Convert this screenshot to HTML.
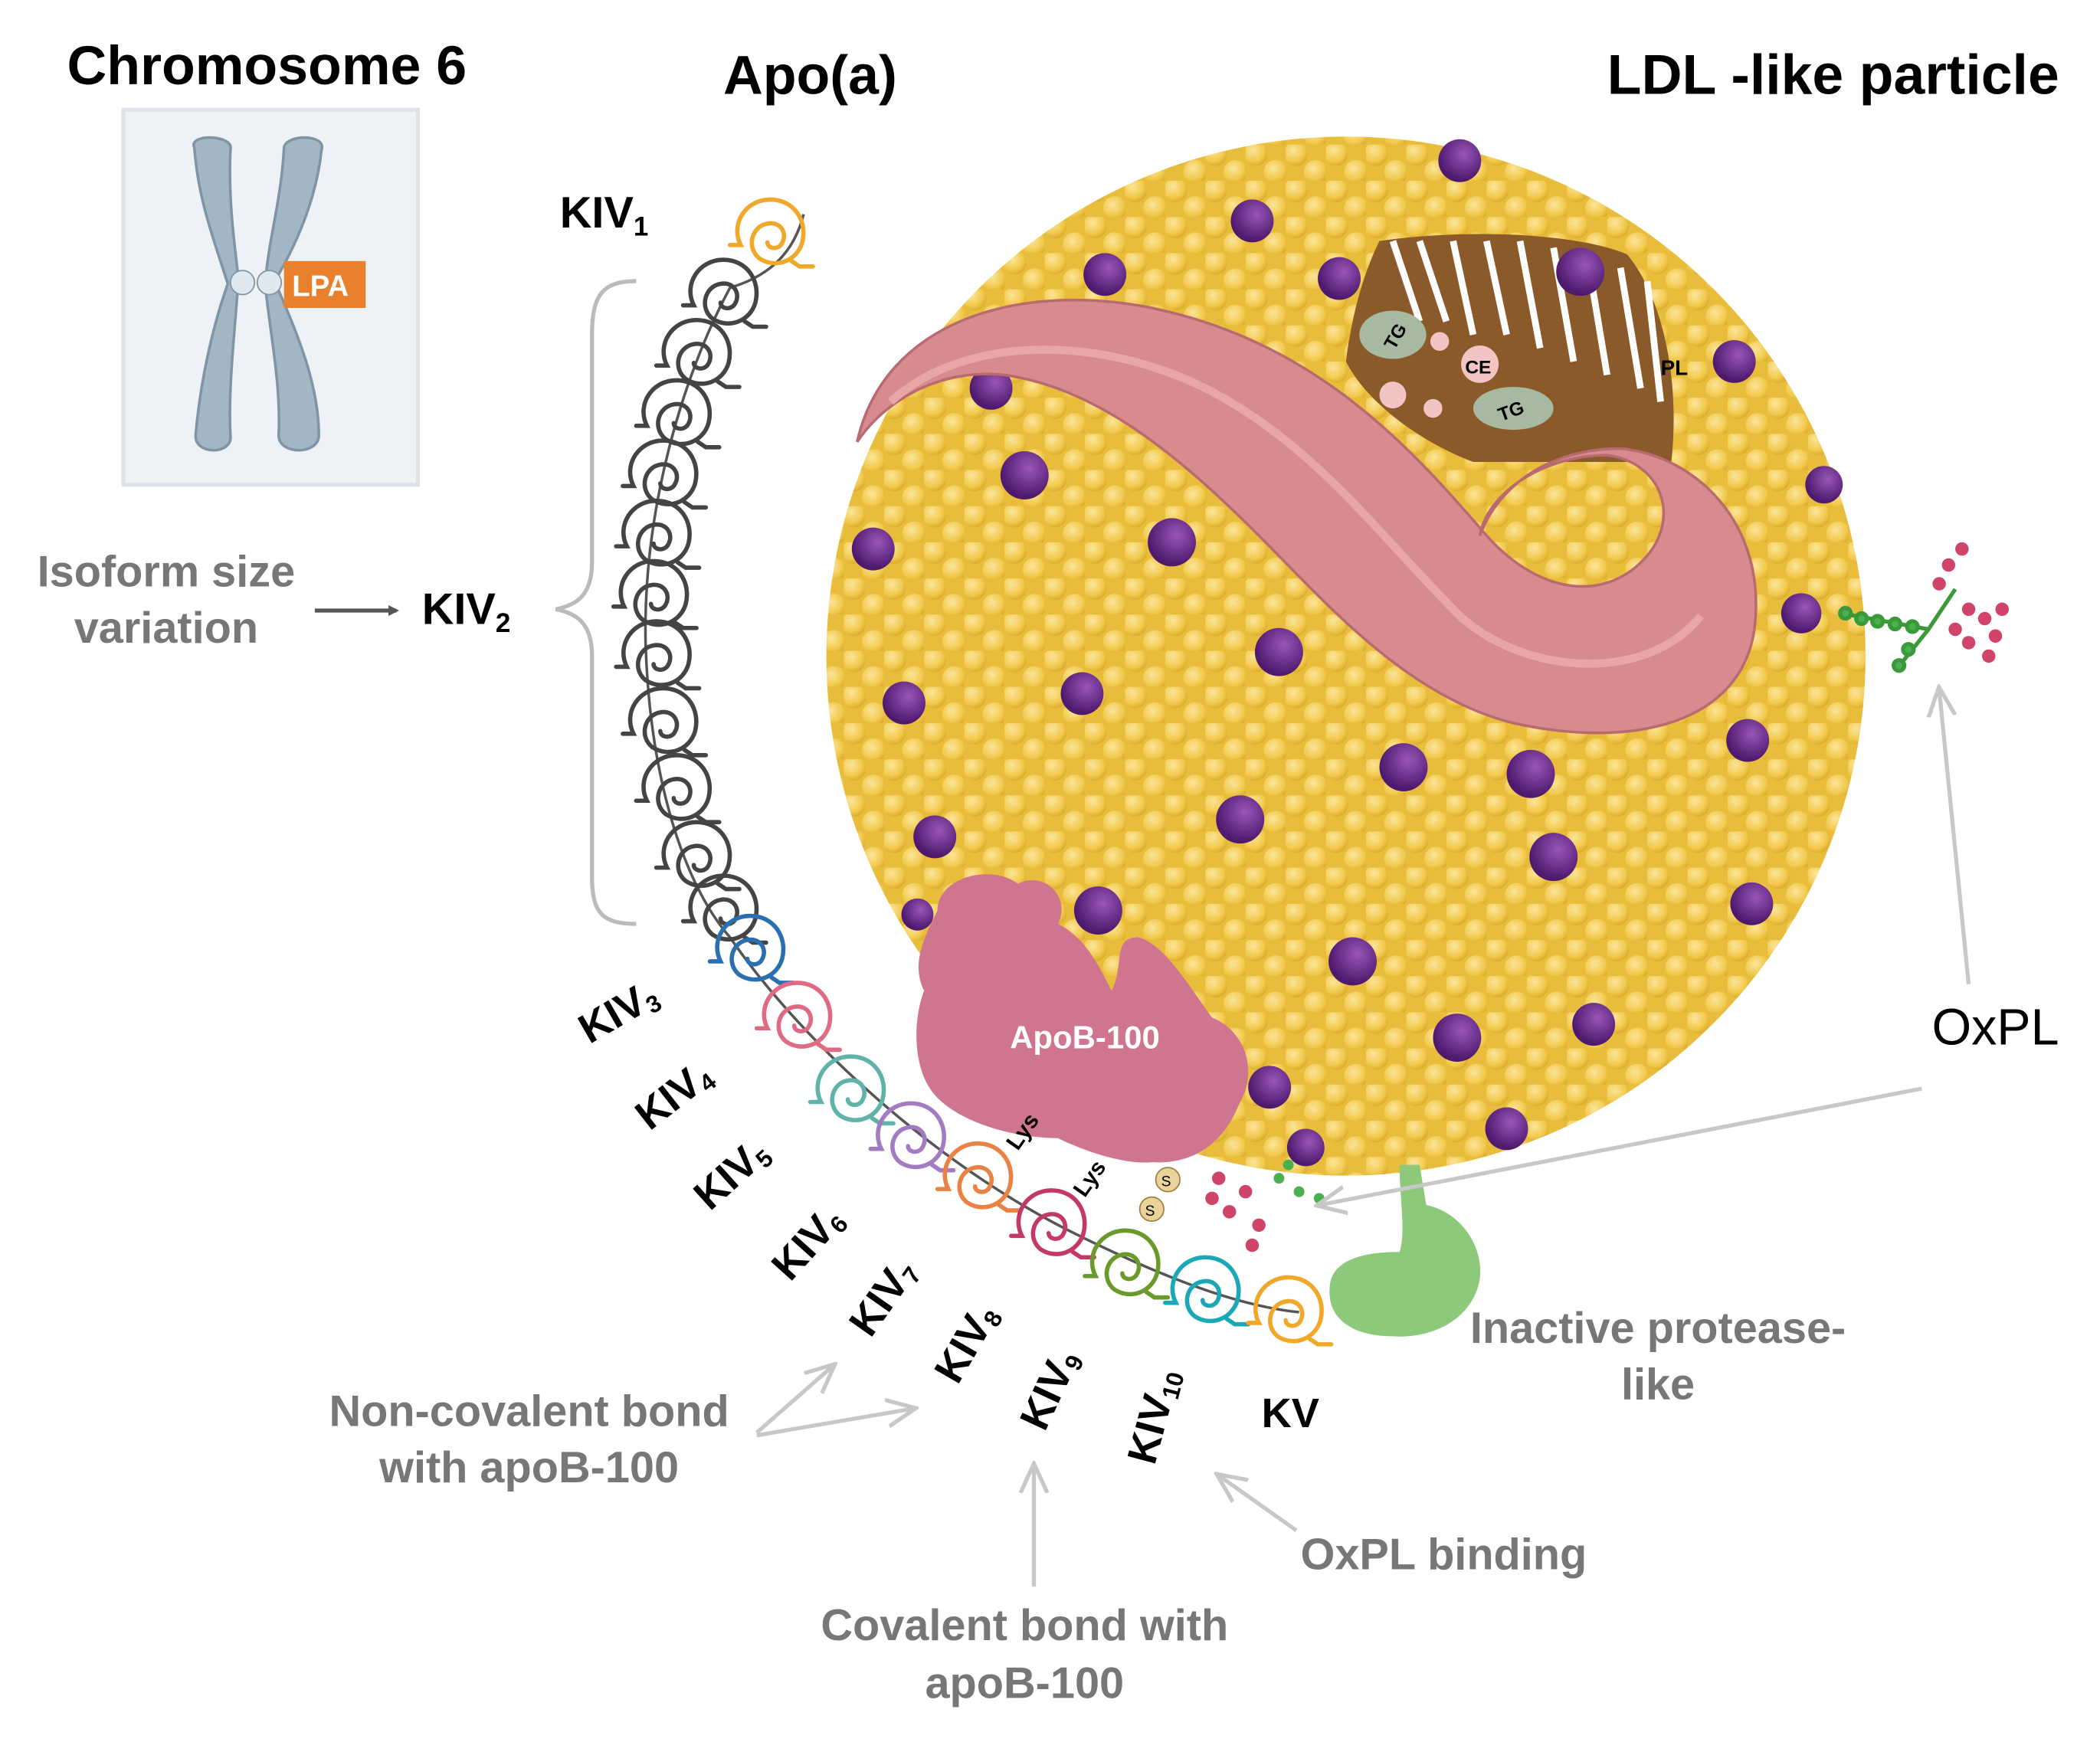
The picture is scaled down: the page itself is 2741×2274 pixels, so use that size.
<!DOCTYPE html>
<html><head><meta charset="utf-8"><style>
html,body{margin:0;padding:0;background:#fff;}
svg{display:block;}
text{font-family:"Liberation Sans",sans-serif;}
</style></head><body>
<svg width="2741" height="2274" viewBox="0 0 1568 1301" xmlns="http://www.w3.org/2000/svg">
<defs>
<radialGradient id="bub" cx="40%" cy="35%" r="65%">
<stop offset="0" stop-color="#fbe59a"/><stop offset="0.7" stop-color="#f2c94c"/><stop offset="1" stop-color="#dcae2e"/>
</radialGradient>
<pattern id="bp" width="30" height="27" patternUnits="userSpaceOnUse">
<rect width="30" height="27" fill="#e9bd3c"/>
<circle cx="7.5" cy="7" r="9" fill="url(#bub)"/>
<circle cx="22.5" cy="20.5" r="9" fill="url(#bub)"/>
</pattern>
<radialGradient id="pur" cx="60%" cy="35%" r="60%"><stop offset="0" stop-color="#9a55b8"/><stop offset="1" stop-color="#4e1a6e"/></radialGradient>
<clipPath id="pc"><circle cx="1005" cy="490" r="385"/></clipPath>
<g id="kr" fill="none" stroke-width="3.2" stroke-linecap="round">
<path d="M-30,8 L-22,8 C-30,-8 -18,-26 0,-26 C18,-26 28,-10 24,6 C20,20 4,26 -8,18 C-18,10 -14,-6 -2,-8 C8,-10 14,0 8,8 C4,12 -2,10 -2,6 M16,20 L22,24 L32,24"/>
</g>
<marker id="ah" markerWidth="8" markerHeight="8" refX="6" refY="4" orient="auto" markerUnits="userSpaceOnUse"><path d="M0,0 L8,4 L0,8 z" fill="#555"/></marker>
<marker id="al" markerWidth="24" markerHeight="24" refX="20" refY="12" orient="auto" markerUnits="userSpaceOnUse"><path d="M0,2 L22,12 L0,22" fill="none" stroke="#c8c8c8" stroke-width="3"/></marker>
</defs>

<text x="50" y="63" font-size="41" font-weight="bold">Chromosome 6</text>
<text x="540" y="70" font-size="41" font-weight="bold">Apo(a)</text>
<text x="1200" y="70" font-size="42" font-weight="bold">LDL -like particle</text>

<rect x="92" y="82" width="220" height="280" fill="#eef1f5" stroke="#dfe3e8" stroke-width="3"/>
<g fill="#a3b6c4" stroke="#7f95a6" stroke-width="2">
<path d="M145,110 C140,100 175,100 172,112 C170,150 176,190 178,208 C176,240 170,290 172,325 C174,340 145,340 146,325 C150,280 160,240 170,212 C160,180 148,150 145,110 Z"/>
<path d="M212,110 C214,100 244,100 240,112 C236,150 220,185 205,210 C220,245 238,285 238,325 C238,340 208,340 208,325 C210,285 200,240 198,212 C200,180 210,150 212,110 Z"/>
</g>
<circle cx="181" cy="211" r="9" fill="#dfe8ee" stroke="#7f95a6"/>
<circle cx="201" cy="211" r="9" fill="#dfe8ee" stroke="#7f95a6"/>
<rect x="212" y="195" width="61" height="35" fill="#e8802c"/>
<text x="218" y="221" font-size="22" font-weight="bold" fill="#fff">LPA</text>

<text x="124" y="438" font-size="33" font-weight="bold" fill="#777" text-anchor="middle">Isoform size</text>
<text x="124" y="480" font-size="33" font-weight="bold" fill="#777" text-anchor="middle">variation</text>
<line x1="235" y1="456" x2="296" y2="456" stroke="#555" stroke-width="3" marker-end="url(#ah)"/>
<text x="315" y="466" font-size="33" font-weight="bold">KIV<tspan font-size="20" dy="6">2</tspan></text>
<path d="M475,210 C450,210 442,220 442,250 L442,420 C442,445 430,452 415,455 C430,458 442,465 442,490 L442,655 C442,682 450,690 475,690" fill="none" stroke="#bbb" stroke-width="3"/>
<text x="418" y="170" font-size="33" font-weight="bold">KIV<tspan font-size="20" dy="6">1</tspan></text>

<circle cx="1005" cy="490" r="388" fill="url(#bp)"/>
<g clip-path="url(#pc)">
<path d="M1030,180 C1100,170 1180,175 1215,190 C1240,220 1255,280 1248,345 L1100,345 C1060,330 1020,300 1005,270 C1010,230 1020,200 1030,180 Z" fill="#8b5a2b"/>
<g stroke="#fff" stroke-width="5">
<path d="M1040,180 L1060,240 M1060,180 L1080,240 M1085,180 L1100,250 M1110,180 L1125,250 M1135,180 L1150,260 M1160,185 L1175,270 M1185,190 L1200,280 M1210,200 L1225,290 M1230,210 L1240,300"/>
</g>
<circle cx="1105" cy="272" r="14" fill="#f2c4c4"/>
<text x="1094" y="279" font-size="14" font-weight="bold">CE</text>
<circle cx="1075" cy="255" r="7" fill="#f2c4c4"/><circle cx="1070" cy="305" r="7" fill="#f2c4c4"/><circle cx="1040" cy="295" r="10" fill="#f2c4c4"/>
<ellipse cx="1040" cy="250" rx="25" ry="18" fill="#a7b9a0"/><text x="1032" y="258" font-size="14" font-weight="bold" transform="rotate(-60 1040 252)">TG</text>
<ellipse cx="1130" cy="305" rx="30" ry="16" fill="#a7b9a0"/><text x="1118" y="311" font-size="14" font-weight="bold" transform="rotate(-20 1130 305)">TG</text>
<text x="1240" y="280" font-size="16" font-weight="bold">PL</text>
</g>
<g fill="url(#pur)">
<circle cx="935" cy="165" r="16"/><circle cx="1090" cy="120" r="16"/><circle cx="1180" cy="203" r="18"/>
<circle cx="825" cy="205" r="16"/><circle cx="1000" cy="208" r="16"/><circle cx="1295" cy="270" r="16"/>
<circle cx="740" cy="290" r="16"/><circle cx="765" cy="355" r="18"/><circle cx="875" cy="405" r="18"/>
<circle cx="652" cy="410" r="16"/><circle cx="955" cy="487" r="18"/><circle cx="808" cy="518" r="16"/>
<circle cx="675" cy="525" r="16"/><circle cx="1345" cy="458" r="15"/><circle cx="1362" cy="362" r="14"/>
<circle cx="1048" cy="573" r="18"/><circle cx="1143" cy="578" r="18"/><circle cx="1305" cy="553" r="16"/>
<circle cx="926" cy="612" r="18"/><circle cx="1160" cy="640" r="18"/><circle cx="698" cy="625" r="16"/>
<circle cx="820" cy="680" r="18"/><circle cx="1308" cy="675" r="16"/><circle cx="1010" cy="718" r="18"/>
<circle cx="1088" cy="775" r="18"/><circle cx="1190" cy="765" r="16"/><circle cx="948" cy="812" r="16"/>
<circle cx="1125" cy="843" r="16"/><circle cx="975" cy="857" r="14"/><circle cx="685" cy="683" r="12"/>
</g>
<path d="M640,330 C660,240 760,210 860,230 C980,255 1050,330 1110,400 C1150,445 1200,450 1230,415 C1255,385 1240,345 1200,340 C1150,340 1110,370 1105,400 C1120,360 1160,335 1210,335 C1265,340 1320,390 1310,470 C1300,540 1220,560 1130,540 C1050,520 990,450 940,400 C880,340 820,290 750,280 C700,275 660,300 640,330 Z" fill="#d88b8f" stroke="#b86a70" stroke-width="2"/>
<path d="M665,300 C720,250 820,250 900,290 C980,330 1030,400 1090,460 C1140,505 1230,510 1270,460" fill="none" stroke="#e8a6a8" stroke-width="6"/>

<path d="M700,680 C700,655 740,645 760,660 C780,650 800,670 790,690 C810,700 820,720 830,740 C840,720 830,700 850,700 C870,705 890,740 905,760 C930,770 940,800 925,825 C915,850 895,870 860,868 C840,870 810,860 790,850 C760,850 720,840 700,820 C680,800 682,760 690,740 C680,720 690,700 700,680 Z" fill="#d0758f"/>
<text x="810" y="783" font-size="24" font-weight="bold" fill="#fff" text-anchor="middle">ApoB-100</text>
<text x="760" y="860" font-size="17" font-weight="bold" transform="rotate(-55 760 860)">Lys</text>
<text x="810" y="895" font-size="17" font-weight="bold" transform="rotate(-55 810 895)">Lys</text>
<circle cx="872" cy="881" r="9" fill="#e9d39b" stroke="#a08040"/><text x="867" y="886" font-size="11">S</text>
<circle cx="860" cy="903" r="9" fill="#e9d39b" stroke="#a08040"/><text x="855" y="908" font-size="11">S</text>

<path d="M1045,870 L1060,870 L1065,900 C1090,905 1108,930 1105,955 C1100,985 1070,1000 1040,998 C1010,998 990,985 993,960 C995,940 1020,935 1045,935 C1050,920 1045,895 1045,870 Z" fill="#8cc97a"/>

<g stroke="#3a9a3a" stroke-width="3" fill="#4caf50">
<path d="M1375,458 L1440,470 L1460,440 M1440,470 L1420,495" fill="none"/>
<circle cx="1378" cy="458" r="4"/><circle cx="1390" cy="462" r="4"/><circle cx="1402" cy="464" r="4"/><circle cx="1415" cy="466" r="4"/><circle cx="1428" cy="468" r="4"/><circle cx="1425" cy="485" r="4"/><circle cx="1418" cy="497" r="4"/>
</g>
<g fill="#d0446a"><circle cx="1465" cy="410" r="5"/><circle cx="1455" cy="422" r="5"/><circle cx="1448" cy="436" r="5"/><circle cx="1470" cy="455" r="5"/><circle cx="1482" cy="462" r="5"/><circle cx="1490" cy="475" r="5"/><circle cx="1495" cy="455" r="5"/><circle cx="1470" cy="480" r="5"/><circle cx="1485" cy="490" r="5"/><circle cx="1460" cy="470" r="5"/></g>
<g fill="#d0446a"><circle cx="910" cy="880" r="5"/><circle cx="905" cy="895" r="5"/><circle cx="918" cy="905" r="5"/><circle cx="930" cy="890" r="5"/><circle cx="940" cy="915" r="5"/><circle cx="935" cy="930" r="5"/></g>
<g fill="#4caf50"><circle cx="955" cy="880" r="4"/><circle cx="962" cy="870" r="4"/><circle cx="970" cy="890" r="4"/><circle cx="985" cy="895" r="4"/></g>

<path d="M600,160 C590,200 560,210 545,215 C510,280 480,380 482,480 C485,580 510,660 545,700 C600,780 700,870 800,920 C860,950 920,975 970,980" fill="none" stroke="#555" stroke-width="2"/>
<use href="#kr" x="575" y="175" stroke="#f0a82a"/>
<g stroke="#444">
<use href="#kr" x="540" y="220"/><use href="#kr" x="520" y="265"/><use href="#kr" x="505" y="310"/>
<use href="#kr" x="495" y="355"/><use href="#kr" x="490" y="400"/><use href="#kr" x="488" y="445"/>
<use href="#kr" x="490" y="490"/><use href="#kr" x="495" y="540"/><use href="#kr" x="505" y="590"/>
<use href="#kr" x="520" y="640"/><use href="#kr" x="540" y="680"/>
</g>
<use href="#kr" x="560" y="710" stroke="#2a6fb0"/>
<use href="#kr" x="595" y="760" stroke="#e06a82"/>
<use href="#kr" x="635" y="815" stroke="#5fb3a8"/>
<use href="#kr" x="680" y="850" stroke="#a27bc0"/>
<use href="#kr" x="730" y="880" stroke="#ea8245"/>
<use href="#kr" x="785" y="915" stroke="#c43868"/>
<use href="#kr" x="840" y="945" stroke="#6a9a2a"/>
<use href="#kr" x="900" y="965" stroke="#1aa8b8"/>
<use href="#kr" x="962" y="980" stroke="#f0a82a"/>

<g font-size="31" font-weight="bold">
<text transform="translate(440,780) rotate(-30)">KIV<tspan font-size="18" dy="4">3</tspan></text>
<text transform="translate(485,845) rotate(-38)">KIV<tspan font-size="18" dy="4">4</tspan></text>
<text transform="translate(530,905) rotate(-42)">KIV<tspan font-size="18" dy="4">5</tspan></text>
<text transform="translate(590,958) rotate(-48)">KIV<tspan font-size="18" dy="4">6</tspan></text>
<text transform="translate(650,1000) rotate(-55)">KIV<tspan font-size="18" dy="4">7</tspan></text>
<text transform="translate(715,1035) rotate(-60)">KIV<tspan font-size="18" dy="4">8</tspan></text>
<text transform="translate(780,1070) rotate(-65)">KIV<tspan font-size="18" dy="4">9</tspan></text>
<text transform="translate(862,1095) rotate(-75)">KIV<tspan font-size="18" dy="4">10</tspan></text>
<text x="942" y="1066">KV</text>
</g>

<g stroke="#c8c8c8" stroke-width="3" fill="none">
<line x1="565" y1="1070" x2="622" y2="1020" marker-end="url(#al)"/>
<line x1="565" y1="1072" x2="682" y2="1052" marker-end="url(#al)"/>
<line x1="772" y1="1185" x2="772" y2="1095" marker-end="url(#al)"/>
<line x1="968" y1="1143" x2="910" y2="1102" marker-end="url(#al)"/>
<line x1="1435" y1="813" x2="985" y2="900" marker-end="url(#al)"/>
<line x1="1470" y1="735" x2="1448" y2="515" marker-end="url(#al)"/>
</g>
<g font-size="33" font-weight="bold" fill="#777" text-anchor="middle">
<text x="395" y="1065">Non-covalent bond</text>
<text x="395" y="1107">with apoB-100</text>
<text x="765" y="1225">Covalent bond with</text>
<text x="765" y="1268">apoB-100</text>
<text x="1078" y="1172">OxPL binding</text>
<text x="1238" y="1003">Inactive protease-</text>
<text x="1238" y="1045">like</text>
</g>
<text x="1490" y="780" font-size="38" text-anchor="middle">OxPL</text>
</svg>
</body></html>
